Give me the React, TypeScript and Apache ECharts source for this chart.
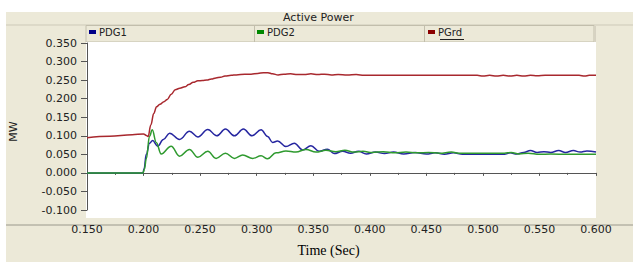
import React, { useEffect, useRef } from "react";
import * as echarts from "echarts";

const seriesNames = ["PDG1", "PDG2", "PGrd"];
const xTicks = { min: 0.15, max: 0.6, interval: 0.05 };
const yTicks = { min: -0.1, max: 0.35, interval: 0.05 };

const pdg1: [number, number][] = [
  [0.150, 0], [0.1995, 0], [0.2005, 0.012], [0.2024, 0.050], [0.2053, 0.080], [0.208, 0.087],
  [0.2125, 0.072], [0.2175, 0.090], [0.223, 0.107], [0.2318, 0.090], [0.2406, 0.112], [0.248, 0.097],
  [0.2568, 0.117], [0.2647, 0.100], [0.2724, 0.118], [0.2803, 0.100], [0.2883, 0.118], [0.2959, 0.100],
  [0.3039, 0.116], [0.3097, 0.098], [0.3141, 0.082], [0.3185, 0.086], [0.3259, 0.071], [0.3333, 0.080],
  [0.3406, 0.062], [0.348, 0.073], [0.3553, 0.058], [0.3625, 0.064], [0.3685, 0.052], [0.376, 0.058],
  [0.383, 0.053], [0.390, 0.058], [0.397, 0.051], [0.405, 0.056], [0.413, 0.052], [0.421, 0.056],
  [0.430, 0.051], [0.440, 0.055], [0.450, 0.051], [0.458, 0.054], [0.466, 0.050], [0.474, 0.054],
  [0.482, 0.050], [0.489, 0.050], [0.519, 0.050], [0.524, 0.054], [0.530, 0.051], [0.536, 0.055],
  [0.542, 0.060], [0.548, 0.055], [0.554, 0.057], [0.560, 0.055], [0.567, 0.060], [0.573, 0.055],
  [0.580, 0.060], [0.586, 0.056], [0.592, 0.059], [0.600, 0.056],
];

const pdg2: [number, number][] = [
  [0.150, 0], [0.1995, 0], [0.2008, 0.010], [0.2024, 0.038], [0.2053, 0.099], [0.2077, 0.116],
  [0.2112, 0.082], [0.2156, 0.051], [0.2244, 0.072], [0.2318, 0.045], [0.2406, 0.063], [0.248, 0.042],
  [0.2568, 0.058], [0.2641, 0.039], [0.2724, 0.053], [0.2803, 0.039], [0.2877, 0.048], [0.2965, 0.039],
  [0.3039, 0.046], [0.3097, 0.038], [0.3171, 0.054], [0.3259, 0.059], [0.3347, 0.056], [0.3436, 0.063],
  [0.3524, 0.056], [0.3612, 0.061], [0.370, 0.057], [0.378, 0.061], [0.386, 0.056], [0.394, 0.058],
  [0.402, 0.055], [0.412, 0.057], [0.422, 0.054], [0.432, 0.056], [0.442, 0.054], [0.452, 0.055],
  [0.462, 0.053], [0.472, 0.056], [0.480, 0.053], [0.489, 0.053], [0.519, 0.053], [0.525, 0.055],
  [0.532, 0.051], [0.540, 0.053], [0.550, 0.050], [0.560, 0.051], [0.575, 0.050], [0.600, 0.050],
];

const pgrd: [number, number][] = [
  [0.150, 0.095], [0.170, 0.099], [0.190, 0.103], [0.200, 0.105], [0.2025, 0.101], [0.204, 0.098],
  [0.2065, 0.130], [0.209, 0.160], [0.2115, 0.178], [0.2145, 0.185], [0.218, 0.192], [0.221, 0.198],
  [0.2245, 0.212], [0.228, 0.224], [0.232, 0.228], [0.2365, 0.232], [0.240, 0.238], [0.244, 0.244],
  [0.248, 0.248], [0.252, 0.249], [0.256, 0.250], [0.260, 0.253], [0.264, 0.256], [0.268, 0.258],
  [0.272, 0.261], [0.2775, 0.263], [0.282, 0.264], [0.2895, 0.266], [0.295, 0.266], [0.301, 0.268],
  [0.306, 0.270], [0.310, 0.270], [0.314, 0.267], [0.319, 0.264], [0.324, 0.266], [0.330, 0.267],
  [0.336, 0.265], [0.342, 0.265], [0.348, 0.267], [0.354, 0.265], [0.360, 0.266], [0.366, 0.264],
  [0.372, 0.265], [0.380, 0.264], [0.388, 0.265], [0.395, 0.263], [0.420, 0.263], [0.450, 0.263],
  [0.495, 0.263], [0.500, 0.261], [0.506, 0.263], [0.512, 0.261], [0.518, 0.263], [0.524, 0.261],
  [0.530, 0.263], [0.536, 0.261], [0.542, 0.263], [0.548, 0.262], [0.555, 0.263], [0.585, 0.263],
  [0.590, 0.261], [0.594, 0.263], [0.600, 0.263],
];

const lineColors = ["#2626a0", "#2f9a2f", "#a8282e"];
const legendColors = ["#000088", "#008800", "#8b0000"];
const legendLefts = [89, 257, 428];

const BEIGE = "#ECE9D8";
const FONT = "DejaVu Sans";

export default function App() {
  const ref = useRef<HTMLDivElement>(null);
  useEffect(() => {
    if (!ref.current) return;
    const chart = echarts.init(ref.current, null, { renderer: "svg" });
    const data = [pdg1, pdg2, pgrd];
    chart.setOption({
      animation: false,
      backgroundColor: "#ffffff",
      title: {
        text: "Active Power",
        left: 283,
        top: 12,
        padding: 0,
        textStyle: { fontFamily: FONT, fontSize: 11, fontWeight: "normal", color: "#222" },
      },
      legend: seriesNames.map((n, i) => ({
        data: [{ name: n, itemStyle: { color: legendColors[i] } }],
        left: legendLefts[i],
        top: 27,
        padding: 0,
        icon: "rect",
        itemWidth: 7,
        itemHeight: 4,
        selectedMode: false,
        textStyle: { fontFamily: FONT, fontSize: 10, color: "#222", padding: [0, 0, 0, -2] },
      })),
      grid: { left: 85, right: 37, top: 43, bottom: 45 },
      xAxis: {
        type: "value",
        min: xTicks.min,
        max: xTicks.max,
        interval: xTicks.interval,
        offset: 8,
        name: "Time (Sec)",
        nameLocation: "middle",
        nameGap: 25,
        nameTextStyle: {
          fontFamily: "Liberation Serif",
          fontSize: 14,
          color: "#000",
          padding: [0, 26, 0, 0],
        },
        axisLine: { show: true, lineStyle: { color: "#555", width: 1 } },
        axisTick: { show: true, length: 3, lineStyle: { color: "#555" } },
        minorTick: { show: true, splitNumber: 2, length: 2, lineStyle: { color: "#555" } },
        splitLine: { show: false },
        axisLabel: {
          margin: 6,
          fontFamily: FONT,
          fontSize: 11,
          color: "#222",
          formatter: (v: number) => v.toFixed(3),
        },
      },
      yAxis: {
        type: "value",
        min: yTicks.min,
        max: yTicks.max,
        interval: yTicks.interval,
        name: "MW",
        nameLocation: "middle",
        nameRotate: 90,
        nameGap: 68,
        nameTextStyle: { fontFamily: FONT, fontSize: 11, color: "#222", padding: [0, 0, 0, -10] },
        axisLine: { show: true, lineStyle: { color: "#555", width: 1 } },
        axisTick: { show: true, length: 6, lineStyle: { color: "#555" } },
        splitLine: { show: false },
        axisLabel: {
          margin: 10,
          fontFamily: FONT,
          fontSize: 11,
          color: "#222",
          formatter: (v: number) => v.toFixed(3),
        },
      },
      graphic: [
        { type: "rect", z: -20, shape: { x: 6, y: 12, width: 627, height: 250 }, style: { fill: BEIGE } },
        { type: "line", z: -19, shape: { x1: 6, y1: 25, x2: 633, y2: 25 }, style: { stroke: "#cdc9b8", lineWidth: 1 } },
        { type: "rect", z: -18, shape: { x: 86, y: 25.5, width: 508, height: 16.5 }, style: { fill: BEIGE, stroke: "#c2beac", lineWidth: 1 } },
        { type: "line", z: -17, shape: { x1: 254.5, y1: 26, x2: 254.5, y2: 42 }, style: { stroke: "#c2beac", lineWidth: 1 } },
        { type: "line", z: -17, shape: { x1: 424.5, y1: 26, x2: 424.5, y2: 42 }, style: { stroke: "#c2beac", lineWidth: 1 } },
        { type: "line", z: -17, shape: { x1: 595.5, y1: 26, x2: 595.5, y2: 42 }, style: { stroke: "#d6d2c2", lineWidth: 1 } },
        { type: "rect", z: -16, shape: { x: 86, y: 42, width: 510, height: 176 }, style: { fill: "#ffffff" } },
        { type: "line", z: -15, shape: { x1: 6, y1: 225, x2: 633, y2: 225 }, style: { stroke: "#9a988c", lineWidth: 1 } },
        { type: "line", z: 10, shape: { x1: 440, y1: 39.5, x2: 464, y2: 39.5 }, style: { stroke: "#222", lineWidth: 1 } },
      ],
      series: seriesNames.map((n, i) => ({
        name: n,
        type: "line",
        data: data[i],
        showSymbol: false,
        smooth: 0.4,
        smoothMonotone: "x",
        lineStyle: { color: lineColors[i], width: 1.5 },
        itemStyle: { color: lineColors[i] },
        z: 2 + i,
      })),
    });
    return () => chart.dispose();
  }, []);
  return (
    <div
      ref={ref}
      style={{ position: "fixed", left: 0, top: 0, width: 633, height: 262 }}
    />
  );
}
